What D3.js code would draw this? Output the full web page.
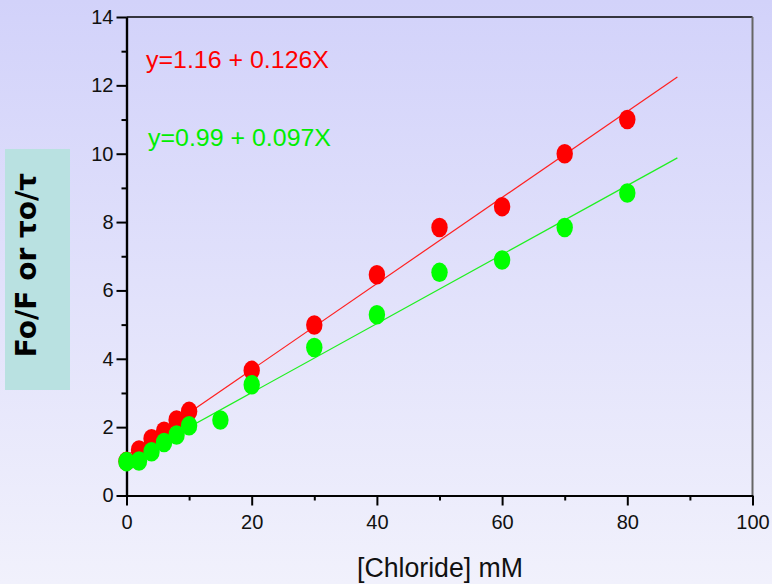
<!DOCTYPE html>
<html>
<head>
<meta charset="utf-8">
<script src="https://cdn.jsdelivr.net/npm/d3@7"></script>
<style>
html,body{margin:0;padding:0;}
svg{display:block;}
</style>
</head>
<body>
<script>
// ---- data ----
const redX = [0, 2, 4, 6, 8, 10, 20, 30, 40, 50, 60, 70, 80];
const redY = [1.0, 1.33, 1.66, 1.88, 2.21, 2.46, 3.66, 4.99, 6.46, 7.84, 8.45, 10.0, 11.0];
const greenX = [0, 2, 4, 6, 8, 10, 15, 20, 30, 40, 50, 60, 70, 80];
const greenY = [0.99, 1.01, 1.28, 1.55, 1.77, 2.04, 2.21, 3.24, 4.33, 5.29, 6.53, 6.89, 7.84, 8.85];
const redFit = [1.16, 0.126];     // intercept, slope
const greenFit = [0.99, 0.101];   // intercept, slope (as drawn)
const fitRange = [0, 88];
const redLabel = "y=1.16 + 0.126X";
const greenLabel = "y=0.99 + 0.097X";
const xTicks = [0, 20, 40, 60, 80, 100];
const yTicks = [0, 2, 4, 6, 8, 10, 12, 14];
const xTitle = "[Chloride] mM";
const yTitle = "Fo/F or \u03C4o/\u03C4";

const W = 772, H = 584;
const svg = d3.select("body").append("svg").attr("width", W).attr("height", H);

const defs = svg.append("defs");
const grad = defs.append("linearGradient").attr("id", "bg").attr("x1", 0).attr("y1", 0).attr("x2", 0).attr("y2", 1);
grad.append("stop").attr("offset", "0%").attr("stop-color", "#d2d2fa");
grad.append("stop").attr("offset", "100%").attr("stop-color", "#f1f1fc");
svg.append("rect").attr("width", W).attr("height", H).attr("fill", "url(#bg)");

const x = d3.scaleLinear().domain([0, 100]).range([126.5, 752.5]);
const y = d3.scaleLinear().domain([0, 14]).range([495.5, 17]);

// frame top & right
svg.append("line").attr("x1", x(0)).attr("x2", x(100)).attr("y1", y(14)).attr("y2", y(14))
  .attr("stroke", "#000").attr("stroke-width", 1.5);
svg.append("line").attr("x1", x(100)).attr("x2", x(100)).attr("y1", y(14)).attr("y2", y(0))
  .attr("stroke", "#666").attr("stroke-width", 2);

// axes
const font = "'Liberation Sans', Arial, sans-serif";
const xAxis = svg.append("g").attr("transform", `translate(0,${y(0)})`)
  .call(d3.axisBottom(x).tickValues(xTicks).tickSize(10).tickPadding(8).tickSizeOuter(0));
const xMinor = svg.append("g").attr("transform", `translate(0,${y(0)})`)
  .call(d3.axisBottom(x).tickValues(d3.range(10, 100, 20)).tickSize(5).tickFormat("").tickSizeOuter(0));
const yAxis = svg.append("g").attr("transform", `translate(${x(0)},0)`)
  .call(d3.axisLeft(y).tickValues(yTicks).tickSize(10).tickPadding(3).tickSizeOuter(0));
const yMinor = svg.append("g").attr("transform", `translate(${x(0)},0)`)
  .call(d3.axisLeft(y).tickValues(d3.range(1, 14, 2)).tickSize(5).tickFormat("").tickSizeOuter(0));
[xAxis, xMinor, yAxis, yMinor].forEach(g => {
  g.select(".domain").attr("stroke", "#000").attr("stroke-width", 2.2);
  g.selectAll(".tick line").attr("stroke", "#000").attr("stroke-width", 2);
  g.selectAll(".tick text").attr("fill", "#111").style("font-family", font).style("font-size", "20px");
});
xAxis.selectAll(".tick text").attr("dy", "0.75em");

// fit lines
const fitLine = (f) => fitRange.map(v => [v, f[0] + f[1] * v]);
const lineGen = d3.line().x(d => x(d[0])).y(d => y(d[1]));
svg.append("path").attr("d", lineGen(fitLine(redFit))).attr("stroke", "#ff2020").attr("stroke-width", 1.2).attr("fill", "none");
svg.append("path").attr("d", lineGen(fitLine(greenFit))).attr("stroke", "#20f020").attr("stroke-width", 1.2).attr("fill", "none");

// points
svg.append("g").selectAll("ellipse").data(redX.map((v, i) => [v, redY[i]])).join("ellipse")
  .attr("cx", d => x(d[0])).attr("cy", d => y(d[1])).attr("rx", 8.2).attr("ry", 9.8).attr("fill", "#ff0000");
svg.append("g").selectAll("ellipse").data(greenX.map((v, i) => [v, greenY[i]])).join("ellipse")
  .attr("cx", d => x(d[0])).attr("cy", d => y(d[1])).attr("rx", 8.2).attr("ry", 9.8).attr("fill", "#00ff00");

// equations
svg.append("text").attr("x", 146).attr("y", 68).text(redLabel)
  .attr("textLength", 183).attr("lengthAdjust", "spacingAndGlyphs")
  .attr("fill", "#ff0000").style("font-family", font).style("font-size", "23px");
svg.append("text").attr("x", 148).attr("y", 146).text(greenLabel)
  .attr("textLength", 183).attr("lengthAdjust", "spacingAndGlyphs")
  .attr("fill", "#00ee00").style("font-family", font).style("font-size", "23px");

// x title
svg.append("text").attr("x", 357).attr("y", 577).text(xTitle)
  .attr("textLength", 166).attr("lengthAdjust", "spacingAndGlyphs")
  .attr("fill", "#111").style("font-family", font).style("font-size", "27px");

// y title box
svg.append("rect").attr("x", 5).attr("y", 149).attr("width", 65).attr("height", 241).attr("fill", "#b9e1e1");
svg.append("text").attr("transform", "translate(36,265) rotate(-90)").attr("text-anchor", "middle")
  .text(yTitle).attr("fill", "#000").style("font-family", "'DejaVu Sans', sans-serif")
  .style("font-weight", "bold").style("font-size", "28px");
</script>
</body>
</html>
